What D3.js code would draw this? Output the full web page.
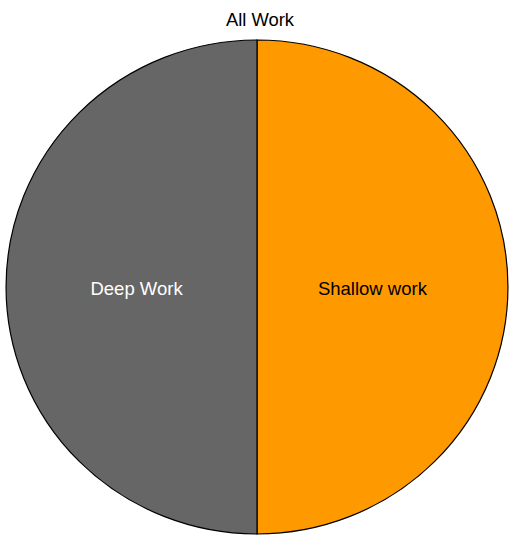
<!DOCTYPE html>
<html><head><meta charset="utf-8">
<script src="https://cdn.jsdelivr.net/npm/d3@7"></script>
<style>body{margin:0;background:#fff}svg{display:block}text{font-family:"Liberation Sans",Arial,sans-serif}</style>
</head><body>
<script>
const categories = ["Shallow work", "Deep Work"];
const values = [50, 50];
const colors = ["#ff9900", "#666666"];
const labelColors = ["#000000", "#ffffff"];
const title = "All Work";

const W = 515, H = 548, cx = 257, cy = 287, r = 247, sx = 1.016;
const svg = d3.select("body").append("svg").attr("width", W).attr("height", H);
svg.append("text").attr("x", 260).attr("y", 26).attr("text-anchor", "middle")
  .attr("font-size", 18.4).attr("fill", "#000").text(title);

const pie = d3.pie().sort(null).value(d => d)(values);
const arc = d3.arc().innerRadius(0).outerRadius(r);
const g = svg.append("g").attr("transform", `translate(${cx},${cy})`);
g.append("g").attr("transform", `scale(${sx},1)`)
  .selectAll("path").data(pie).join("path")
  .attr("d", arc).attr("fill", (d, i) => colors[i])
  .attr("stroke", "#000").attr("stroke-width", 1.2)
  .attr("vector-effect", "non-scaling-stroke");
const labelArc = d3.arc().innerRadius(r * 0.47).outerRadius(r * 0.47);
g.selectAll("text").data(pie).join("text")
  .attr("transform", d => { const c = labelArc.centroid(d); return `translate(${c[0] * sx - 2.5},${c[1]})`; })
  .attr("text-anchor", "middle").attr("y", 8)
  .attr("font-size", 18.5).attr("fill", (d, i) => labelColors[i])
  .text((d, i) => categories[i]);
</script>
</body></html>
